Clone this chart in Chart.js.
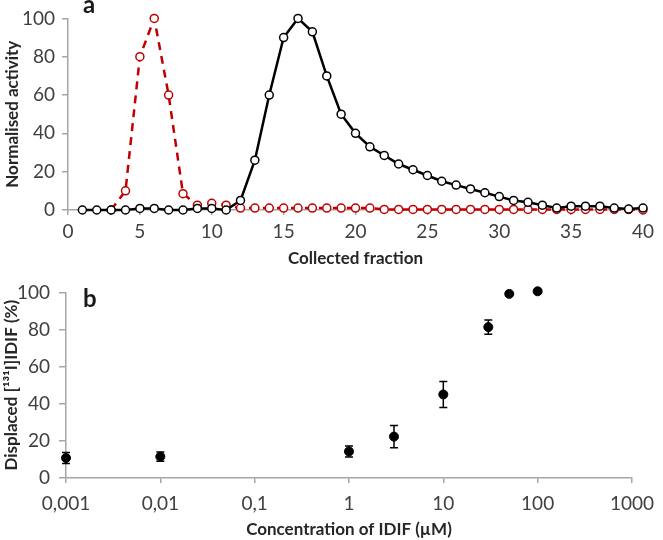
<!DOCTYPE html>
<html lang="en">
<head>
    <meta charset="UTF-8">
    <title>Elution profile and displacement</title>
    <script src="https://cdn.jsdelivr.net/npm/chart.js"></script>
    <style>
        body { margin: 0; background: #fff; }
        .wrap { position: relative; width: 663px; height: 540px; }
        #chartA { position: absolute; left: 0; top: 0; }
        #chartB { position: absolute; left: 0; top: 272px; }
    </style>
</head>
<body>
    <div class="wrap">
        <canvas id="chartA" width="663" height="272"></canvas>
        <canvas id="chartB" width="663" height="268"></canvas>
    </div>

    <script>
        // Panel a: normalised activity per collected fraction
        const fractions = [1, 2, 3, 4, 5, 6, 7, 8, 9, 10,
                           11, 12, 13, 14, 15, 16, 17, 18, 19, 20,
                           21, 22, 23, 24, 25, 26, 27, 28, 29, 30,
                           31, 32, 33, 34, 35, 36, 37, 38, 39, 40];
        const blackActivity = [0, 0, 0, 0, 0.8, 0.8, 0, 0, 0.8, 0.8,
                               0, 5, 26, 60, 90, 100, 93, 70, 50, 40,
                               33, 28.5, 24, 21, 18, 15, 13, 11, 9, 7,
                               5, 4, 2.5, 1, 2, 2, 2, 1, 0.5, 1];
        const redActivity = [null, null, 0, 10, 80, 100, 60, 8.5, 2.5, 3.5,
                             2.5, 1, 1, 1, 1, 1, 1, 1, 1, 1,
                             1, 0.3, 0.3, 0.3, 0.3, 0.3, 0.3, 0.3, 0.3, 0.3,
                             0.3, 0.3, 0.3, 0.3, 0.3, 0.3, 0.3, 0.3, 0.3, 0];

        // Panel b: displacement vs concentration
        const concentration = [0.001, 0.01, 1, 3, 10, 30, 50, 100];
        const displaced = [10.8, 11.5, 14.3, 22.3, 45, 81.3, 99.2, 100.6];
        const displacedErr = [3, 2.5, 3, 6, 7, 3.8, 0.8, 0.8];
        const logTicks = [0.001, 0.01, 0.1, 1, 10, 100, 1000];
        const logTickLabels = ['0,001', '0,01', '0,1', '1', '10', '100', '1000'];

        const FONT = 'Lato, "Open Sans", sans-serif';
        const tickColor = '#404040';
        const axisColor = '#a6a6a6';
        const titleColor = '#262626';

        function panelLabel(text, x, y) {
            return {
                id: 'panelLabel',
                afterDraw(chart) {
                    const ctx = chart.ctx;
                    ctx.save();
                    ctx.font = 'bold 24px ' + FONT;
                    ctx.fillStyle = '#1a1a1a';
                    ctx.textBaseline = 'alphabetic';
                    ctx.fillText(text, x, y);
                    ctx.restore();
                }
            };
        }

        function axisStyle(tickLen) {
            return {
                display: true,
                drawOnChartArea: false,
                drawTicks: true,
                tickLength: tickLen,
                color: axisColor,
                lineWidth: 1.5
            };
        }

        // ---------- Chart a ----------
        const pointsBlack = fractions.map((f, i) => ({ x: f, y: blackActivity[i] }));
        const pointsRed = fractions.map((f, i) => ({ x: f, y: redActivity[i] }));

        new Chart(document.getElementById('chartA').getContext('2d'), {
            type: 'line',
            data: {
                datasets: [
                    {
                        label: 'black',
                        data: pointsBlack,
                        borderColor: '#000000',
                        borderWidth: 2.5,
                        pointRadius: 4,
                        pointBorderWidth: 1.5,
                        pointBackgroundColor: '#ffffff',
                        pointBorderColor: '#000000',
                        tension: 0,
                        clip: false,
                        order: 1
                    },
                    {
                        label: 'red',
                        data: pointsRed,
                        borderColor: '#c00000',
                        borderWidth: 2.5,
                        borderDash: [8, 6],
                        pointRadius: 4,
                        pointBorderWidth: 1.5,
                        pointBackgroundColor: '#ffffff',
                        pointBorderColor: '#c00000',
                        tension: 0,
                        clip: false,
                        order: 2
                    }
                ]
            },
            options: {
                responsive: false,
                animation: false,
                layout: { padding: { top: 16, right: 20, left: 0, bottom: 0 } },
                plugins: { legend: { display: false }, tooltip: { enabled: false } },
                scales: {
                    x: {
                        type: 'linear',
                        min: 0,
                        max: 40,
                        ticks: { stepSize: 5, color: tickColor, font: { family: FONT, size: 19 }, padding: 5, maxRotation: 0 },
                        grid: axisStyle(5),
                        border: { color: axisColor, width: 1.5 },
                        title: { display: true, text: 'Collected fraction', color: titleColor,
                                 font: { family: FONT, size: 17, weight: 'bold' }, padding: { top: 0, bottom: 3 } },
                        afterFit: s => { s.height = 62; }
                    },
                    y: {
                        min: 0,
                        max: 100,
                        ticks: { stepSize: 20, color: tickColor, font: { family: FONT, size: 19 }, padding: 7 },
                        grid: axisStyle(6),
                        border: { color: axisColor, width: 1.5 },
                        title: { display: true, text: 'Normalised activity', color: titleColor,
                                 font: { family: FONT, size: 17, weight: 'bold' }, padding: { top: 2, bottom: 0 } },
                        afterFit: s => { s.width = 68; }
                    }
                }
            },
            plugins: [panelLabel('a', 83, 13)]
        });

        // ---------- Chart b ----------
        const errorBars = {
            id: 'errorBars',
            beforeDatasetsDraw(chart) {
                const ctx = chart.ctx;
                const xs = chart.scales.x, ys = chart.scales.y;
                ctx.save();
                ctx.strokeStyle = '#000000';
                ctx.lineWidth = 1.5;
                concentration.forEach((c, i) => {
                    const px = xs.getPixelForValue(c);
                    const top = ys.getPixelForValue(displaced[i] + displacedErr[i]);
                    const bot = ys.getPixelForValue(displaced[i] - displacedErr[i]);
                    ctx.beginPath();
                    ctx.moveTo(px, top); ctx.lineTo(px, bot);
                    ctx.moveTo(px - 4, top); ctx.lineTo(px + 4, top);
                    ctx.moveTo(px - 4, bot); ctx.lineTo(px + 4, bot);
                    ctx.stroke();
                });
                ctx.restore();
            }
        };

        new Chart(document.getElementById('chartB').getContext('2d'), {
            type: 'scatter',
            data: {
                datasets: [{
                    label: 'displaced',
                    data: concentration.map((c, i) => ({ x: c, y: displaced[i] })),
                    pointRadius: 4.5,
                    pointBackgroundColor: '#000000',
                    pointBorderColor: '#000000',
                    pointBorderWidth: 1,
                    showLine: false,
                    clip: false
                }]
            },
            options: {
                responsive: false,
                animation: false,
                layout: { padding: { top: 16, right: 19, left: 0, bottom: 0 } },
                plugins: { legend: { display: false }, tooltip: { enabled: false } },
                scales: {
                    x: {
                        type: 'logarithmic',
                        min: 0.001,
                        max: 1000,
                        afterBuildTicks: s => { s.ticks = logTicks.map(v => ({ value: v })); },
                        ticks: {
                            color: tickColor, font: { family: FONT, size: 19 }, padding: 9, maxRotation: 0,
                            callback: (v) => logTickLabels[logTicks.indexOf(v)]
                        },
                        grid: axisStyle(5),
                        border: { color: axisColor, width: 1.5 },
                        title: { display: true, text: 'Concentration of IDIF (\u00b5M)', color: titleColor,
                                 font: { family: FONT, size: 17, weight: 'bold' }, padding: { top: 0, bottom: 0 } },
                        afterFit: s => { s.height = 62; }
                    },
                    y: {
                        min: 0,
                        max: 100,
                        ticks: { stepSize: 20, color: tickColor, font: { family: FONT, size: 19 }, padding: 9 },
                        grid: axisStyle(7),
                        border: { color: axisColor, width: 1.5 },
                        title: { display: true, text: 'Displaced [\u00b9\u00b3\u00b9I]IDIF (%)', color: titleColor,
                                 font: { family: FONT, size: 17, weight: 'bold' }, padding: { top: 1, bottom: 0 } },
                        afterFit: s => { s.width = 66; }
                    }
                }
            },
            plugins: [errorBars, panelLabel('b', 83, 35)]
        });
    </script>
</body>
</html>
